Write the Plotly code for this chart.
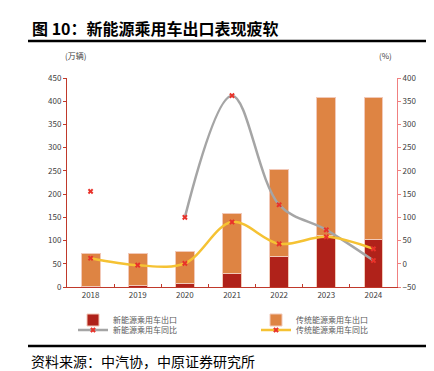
import plotly.graph_objects as go

years = ["2018", "2019", "2020", "2021", "2022", "2023", "2024"]
nev_export = [1, 4, 7, 29, 65, 111, 103]
trad_export = [72, 68, 69, 130, 187, 297, 306]
nev_yoy = [156, None, 100, 362, 127, 73, 7]
trad_yoy = [12, -3, 1, 90, 43, 58, 32]

PL, PR, PT, PB = 59, 389, 70, 279
W, H = 434, 371


def px(x):
    return (x - PL) / (PR - PL)


def py(y):
    return (PB - y) / (PB - PT)


FONT = "Noto Sans CJK SC"
RED_X = "#e8322a"

fig = go.Figure()
fig.add_trace(go.Bar(x=years, y=nev_export, name="新能源乘用车出口",
                     marker=dict(color="#b0221a", line=dict(color="#f2c9b8", width=1)),
                     width=0.4, legend="legend"))
fig.add_trace(go.Bar(x=years, y=trad_export, name="传统能源乘用车出口",
                     marker=dict(color="#de8443", line=dict(color="#f2c9b8", width=1)),
                     width=0.4, legend="legend2"))
fig.add_trace(go.Scatter(x=years, y=nev_yoy, name="新能源乘用车同比", yaxis="y2",
                         mode="lines+markers", connectgaps=False,
                         line=dict(color="#a5a5a5", width=2.5, shape="spline"),
                         marker=dict(symbol="x", size=5, color=RED_X),
                         legend="legend3"))
fig.add_trace(go.Scatter(x=years, y=trad_yoy, name="传统能源乘用车同比", yaxis="y2",
                         mode="lines+markers",
                         line=dict(color="#f5c233", width=2.5, shape="spline"),
                         marker=dict(symbol="x", size=5, color=RED_X),
                         legend="legend4"))

tickfont = dict(family=FONT, size=8, color="#404040")
legfont = dict(family=FONT, size=8, color="#595959")


def leg(xp, yp):
    return dict(orientation="h", x=px(xp), xanchor="left", y=py(yp), yanchor="middle",
                itemwidth=30, font=legfont, bgcolor="rgba(0,0,0,0)",
                borderwidth=0, tracegroupgap=0)


fig.update_layout(
    width=W, height=H,
    margin=dict(l=PL, r=W - PR, t=PT, b=H - PB, autoexpand=False),
    paper_bgcolor="white", plot_bgcolor="white",
    barmode="stack",
    font=dict(family=FONT),
    xaxis=dict(type="category", showline=True, linecolor="#c0392b", linewidth=1,
               ticks="inside", tickson="boundaries", ticklen=3, tickcolor="#c0392b",
               tickfont=tickfont, showgrid=False),
    yaxis=dict(range=[0, 450], dtick=50, showline=True, linecolor="#c0392b", linewidth=1,
               ticks="outside", ticklen=3, tickcolor="#c0392b", tickfont=tickfont,
               showgrid=False, zeroline=False),
    yaxis2=dict(range=[-50, 400], dtick=50, overlaying="y", side="right", showline=True,
                linecolor="#f08080", linewidth=1, ticks="outside", ticklen=3,
                tickcolor="#f08080", tickfont=tickfont, showgrid=False, zeroline=False),
    legend=leg(65, 312),
    legend2=leg(248, 312),
    legend3=leg(65, 322),
    legend4=leg(248, 322),
    showlegend=True,
)

fig.add_annotation(text="<b>图 10：新能源乘用车出口表现疲软</b>", xref="paper", yref="paper",
                   x=px(22), y=py(20), xanchor="left", yanchor="middle", showarrow=False,
                   font=dict(family=FONT, size=16, color="black"))
fig.add_annotation(text="(万辆)", xref="paper", yref="paper", x=px(67), y=py(47),
                   xanchor="center", yanchor="middle", showarrow=False,
                   font=dict(family=FONT, size=8, color="#404040"))
fig.add_annotation(text="(%)", xref="paper", yref="paper", x=px(377), y=py(47),
                   xanchor="center", yanchor="middle", showarrow=False,
                   font=dict(family=FONT, size=8, color="#404040"))
fig.add_annotation(text="资料来源：中汽协，中原证券研究所", xref="paper", yref="paper",
                   x=px(21), y=py(353), xanchor="left", yanchor="middle", showarrow=False,
                   font=dict(family=FONT, size=14, color="black"))

fig.add_shape(type="line", xref="paper", yref="paper", x0=px(20), x1=px(421),
              y0=py(33), y1=py(33), line=dict(color="black", width=2.5))
fig.add_shape(type="line", xref="paper", yref="paper", x0=px(20), x1=px(421),
              y0=py(338), y1=py(338), line=dict(color="black", width=2.5))

fig.write_html("out.html")
